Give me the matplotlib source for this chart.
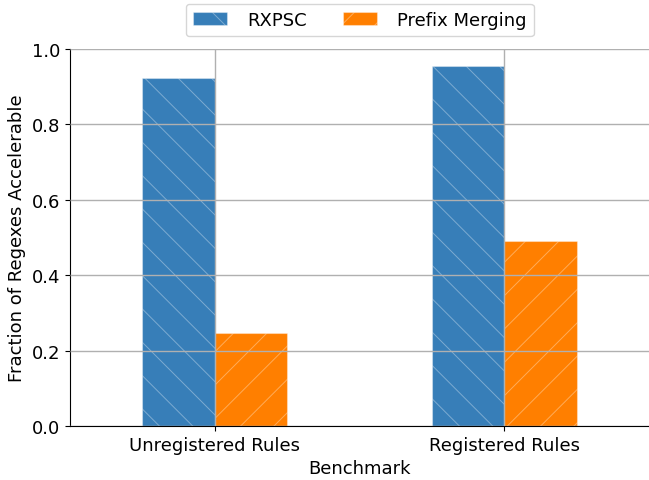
import numpy as np
import matplotlib.pyplot as plt

categories = ['Unregistered Rules', 'Registered Rules']
rxpsc = [0.923, 0.955]
prefix = [0.247, 0.491]

plt.rcParams['hatch.linewidth'] = 0.7

fig = plt.figure(figsize=(6.49, 4.81), dpi=100)
ax = fig.add_axes([0.108, 0.112, 0.892, 0.784])

x = np.arange(len(categories))
w = 0.25
edge = (1, 1, 1, 0.35)
ax.bar(x - w / 2, rxpsc, w, color='#377eb8', hatch='\\', edgecolor=edge, linewidth=0.8, label='RXPSC')
ax.bar(x + w / 2, prefix, w, color='#ff7f00', hatch='/', edgecolor=edge, linewidth=0.8, label='Prefix Merging')

ax.set_xlim(-0.5, 1.5)
ax.set_ylim(0, 1.0)
ax.set_xticks(x)
ax.set_xticklabels(categories, fontsize=13)
ax.tick_params(axis='y', labelsize=13)
ax.set_xlabel('Benchmark', fontsize=13)
ax.set_ylabel('Fraction of Regexes Accelerable', fontsize=13)
ax.grid(True, color='#b0b0b0', linewidth=1)
ax.set_axisbelow(False)
ax.spines['top'].set_visible(False)
ax.spines['right'].set_visible(False)

ax.legend(loc='lower center', bbox_to_anchor=(0.5, 1.01), ncol=2, fontsize=13,
          handlelength=1.9, handletextpad=1.1, columnspacing=2.0)

fig.savefig('out.png', dpi=100)
